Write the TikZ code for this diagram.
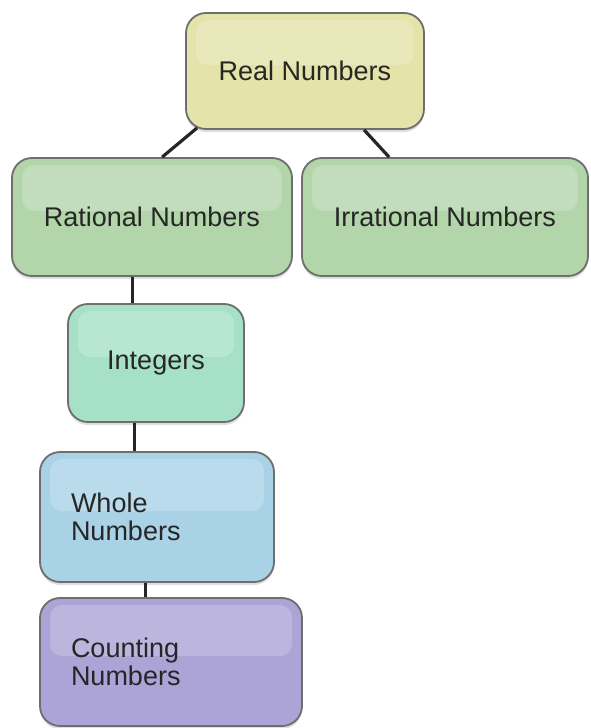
\documentclass[tikz,border=0pt]{standalone}
\usepackage{fontspec}
\setmainfont{Liberation Sans}
\usetikzlibrary{shadows}
\definecolor{realfill}{HTML}{E4E3A9}
\definecolor{greenfill}{HTML}{B3D5AA}
\definecolor{intfill}{HTML}{A6E0C6}
\definecolor{wholefill}{HTML}{A9D2E6}
\definecolor{countfill}{HTML}{ACA3D6}
\definecolor{boxborder}{HTML}{6E6E6E}
\definecolor{txt}{HTML}{262626}
\tikzset{
  x=1pt, y=-1pt,
  glossbox/.style={draw=boxborder, line width=1.8pt, rounded corners=20pt,
    inner sep=0pt, text=txt, font=\fontsize{27}{27.5}\selectfont,
    drop shadow={shadow xshift=0pt, shadow yshift=-3pt, opacity=0.25},
    path picture={\fill[white, opacity=0.2, rounded corners=12pt]
      ([shift={(10pt,-7pt)}]path picture bounding box.north west) rectangle
      ([shift={(-10pt,6pt)}]path picture bounding box.east);}},
  leftbox/.style={glossbox, align=left, inner xsep=31pt, text width=#1},
  link/.style={line width=3.2pt, draw=black!85}
}
\begin{document}
\begin{tikzpicture}
\useasboundingbox (0,0) rectangle (590,728);
\fill[white] (0,0) rectangle (590,728);
\node[glossbox, fill=realfill, minimum width=238pt, minimum height=116pt] (real) at (305,71) {Real Numbers};
\node[glossbox, fill=greenfill, minimum width=280pt, minimum height=118pt] (rational) at (152,217) {Rational Numbers};
\node[glossbox, fill=greenfill, minimum width=286pt, minimum height=118pt] (irrational) at (445,217) {Irrational Numbers};
\node[glossbox, fill=intfill, minimum width=176pt, minimum height=118pt] (integers) at (156,363) {Integers};
\node[leftbox=172pt, fill=wholefill, minimum width=234pt, minimum height=130pt] (whole) at (157,517) {Whole\\Numbers};
\node[leftbox=200pt, fill=countfill, minimum width=262pt, minimum height=128pt] (counting) at (171,662) {Counting\\Numbers};
\draw[link] ([xshift=12pt,yshift=2pt]real.south west) -- ([xshift=151pt]rational.north west);
\draw[link] ([xshift=179pt,yshift=0pt]real.south west) -- ([xshift=88pt]irrational.north west);
\draw[link] ([xshift=121pt]rational.south west) -- ([xshift=65pt]integers.north west);
\draw[link] ([xshift=67pt]integers.south west) -- ([xshift=95pt]whole.north west);
\draw[link] ([xshift=106pt]whole.south west) -- ([xshift=106pt]counting.north west);
\end{tikzpicture}
\end{document}
